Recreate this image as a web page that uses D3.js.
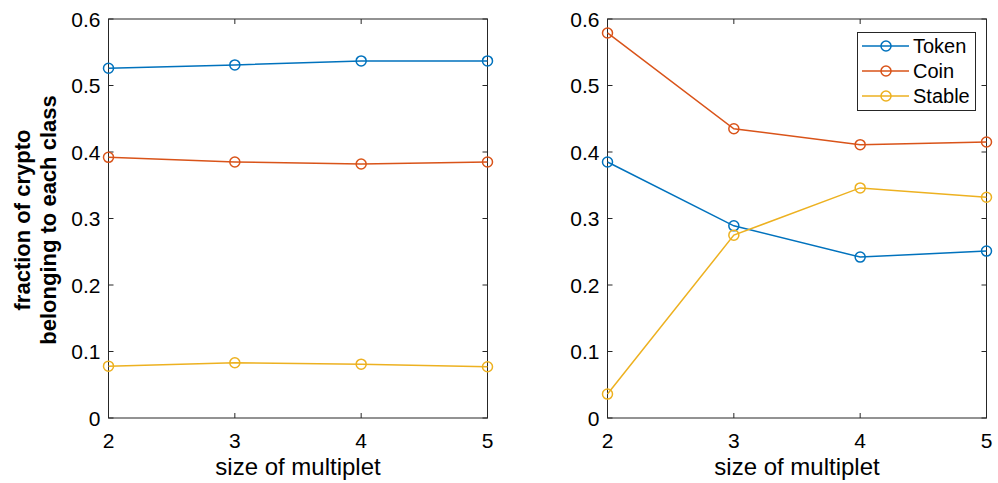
<!DOCTYPE html>
<meta charset="utf-8">
<script src="https://cdn.jsdelivr.net/npm/d3@7"></script>
<style>
  body { margin: 0; background: #fff; font-family: "Liberation Sans", Arial, sans-serif; }
  text { fill: #000; }
</style>
<body>
<div id="viz"></div>
<script>
const sizes = [2, 3, 4, 5];
const yTicks = [0, 0.1, 0.2, 0.3, 0.4, 0.5, 0.6];
const seriesNames = ["Token", "Coin", "Stable"];
const colors = ["#0072BD", "#D95319", "#EDB120"];

// left panel
const leftToken  = [0.526, 0.531, 0.537, 0.537];
const leftCoin   = [0.392, 0.385, 0.382, 0.385];
const leftStable = [0.078, 0.083, 0.081, 0.077];

// right panel
const rightToken  = [0.385, 0.289, 0.242, 0.251];
const rightCoin   = [0.579, 0.435, 0.411, 0.415];
const rightStable = [0.036, 0.275, 0.346, 0.332];

const width = 998, height = 483;
const svg = d3.select("#viz").append("svg")
  .attr("width", width).attr("height", height);

function panel(x0, x1, series, legend) {
  const top = 19, bottom = 418;
  const x = d3.scaleLinear().domain([2, 5]).range([x0, x1]);
  const y = d3.scaleLinear().domain([0, 0.6]).range([bottom, top]);
  const g = svg.append("g");
  const tl = 5;

  // box
  g.append("rect")
    .attr("x", x0).attr("y", top)
    .attr("width", x1 - x0).attr("height", bottom - top)
    .attr("fill", "none").attr("stroke", "#262626").attr("stroke-width", 1);

  // ticks inward on all four sides
  yTicks.forEach(t => {
    const yy = y(t);
    g.append("line").attr("x1", x0).attr("x2", x0 + tl).attr("y1", yy).attr("y2", yy).attr("stroke", "#262626");
    g.append("line").attr("x1", x1).attr("x2", x1 - tl).attr("y1", yy).attr("y2", yy).attr("stroke", "#262626");
    g.append("text").attr("x", x0 - 8).attr("y", yy + 7.5)
      .attr("text-anchor", "end").attr("font-size", 21)
      .text(t === 0 ? "0" : t.toFixed(1));
  });
  sizes.forEach(s => {
    const xx = x(s);
    g.append("line").attr("x1", xx).attr("x2", xx).attr("y1", bottom).attr("y2", bottom - tl).attr("stroke", "#262626");
    g.append("line").attr("x1", xx).attr("x2", xx).attr("y1", top).attr("y2", top + tl).attr("stroke", "#262626");
    g.append("text").attr("x", xx).attr("y", bottom + 30)
      .attr("text-anchor", "middle").attr("font-size", 21).text(s);
  });

  g.append("text").attr("x", (x0 + x1) / 2).attr("y", 475)
    .attr("text-anchor", "middle").attr("font-size", 24).text("size of multiplet");

  const line = d3.line().x((d, i) => x(sizes[i])).y(d => y(d));
  series.forEach((vals, k) => {
    g.append("path").datum(vals).attr("d", line)
      .attr("fill", "none").attr("stroke", colors[k]).attr("stroke-width", 1.5);
    g.selectAll(null).data(vals).enter().append("circle")
      .attr("cx", (d, i) => x(sizes[i])).attr("cy", d => y(d)).attr("r", 5)
      .attr("fill", "none").attr("stroke", colors[k]).attr("stroke-width", 1.5);
  });

  if (legend) {
    const lg = svg.append("g");
    lg.append("rect").attr("x", 857.5).attr("y", 32.5).attr("width", 118).attr("height", 78)
      .attr("fill", "#fff").attr("stroke", "#262626");
    seriesNames.forEach((n, k) => {
      const yy = 46 + k * 25;
      lg.append("line").attr("x1", 862).attr("x2", 909).attr("y1", yy).attr("y2", yy)
        .attr("stroke", colors[k]).attr("stroke-width", 1.5);
      lg.append("circle").attr("cx", 886).attr("cy", yy).attr("r", 5)
        .attr("fill", "none").attr("stroke", colors[k]).attr("stroke-width", 1.5);
      lg.append("text").attr("x", 913).attr("y", yy + 7).attr("font-size", 20).text(n);
    });
  }
}

panel(108.5, 487.5, [leftToken, leftCoin, leftStable], false);
panel(607.5, 986.5, [rightToken, rightCoin, rightStable], true);

// y label
const yl = svg.append("text").attr("transform", "translate(0,220) rotate(-90)")
  .attr("text-anchor", "middle").attr("font-size", 22).attr("font-weight", "bold");
yl.append("tspan").attr("x", 0).attr("y", 30).text("fraction of crypto");
yl.append("tspan").attr("x", 0).attr("y", 56).text("belonging to each class");
</script>
</body>
